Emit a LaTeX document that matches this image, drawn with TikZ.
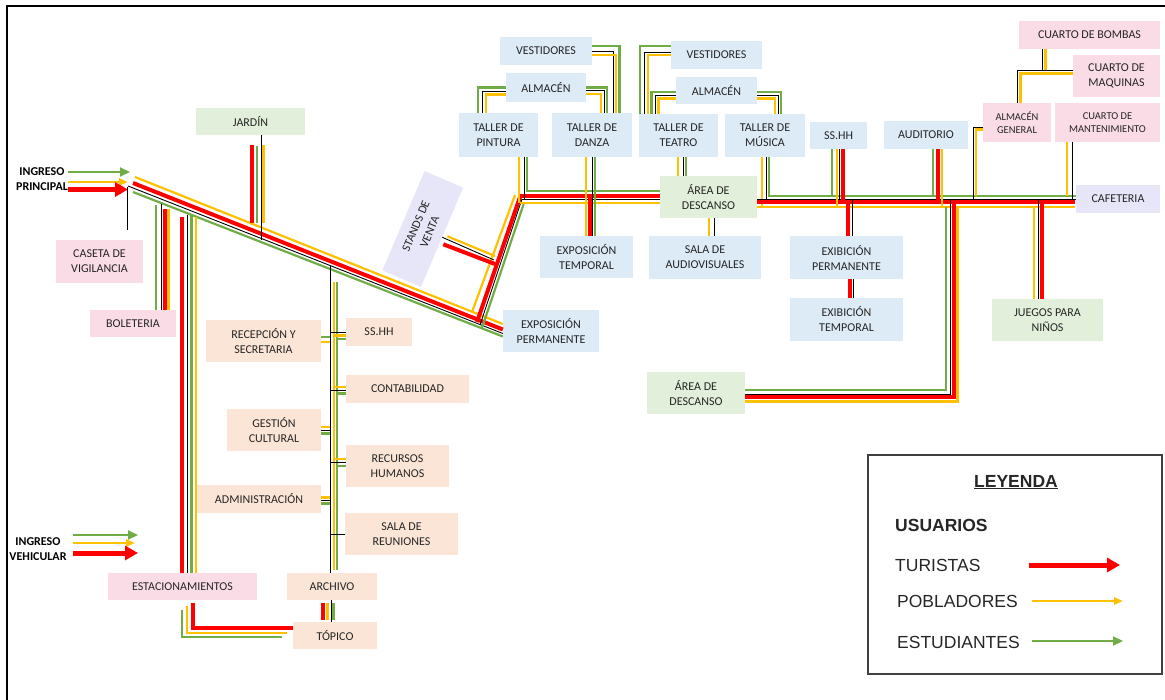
\documentclass[tikz,border=0pt]{standalone}
\usepackage{fontspec}
\setmainfont{Carlito}
\newfontfamily\legfont{Liberation Sans}
\usetikzlibrary{arrows.meta,calc}
\definecolor{rojo}{HTML}{FF0000}
\definecolor{amarillo}{HTML}{FFC000}
\definecolor{verde}{HTML}{70AD47}
\definecolor{cverde}{HTML}{E2EFDA}
\definecolor{crosa}{HTML}{F9DCE5}
\definecolor{cazul}{HTML}{DDEBF7}
\definecolor{cdurazno}{HTML}{FBE5D6}
\definecolor{clila}{HTML}{E6E6F8}
\definecolor{texto}{HTML}{262626}
\tikzset{
  area/.style={inner sep=0pt, align=center, text=texto, font=\fontsize{12}{15}\selectfont},
  chica/.style={font=\fontsize{10.5}{13}\selectfont},
  tur/.style={draw=rojo, line width=4pt},
  pob/.style={draw=amarillo, line width=2.2pt},
  est/.style={draw=verde, line width=2.2pt},
  neg/.style={draw=black, line width=0.9pt},
  ingreso/.style={inner sep=0pt, align=center, font=\fontsize{12}{15}\selectfont\bfseries},
  leyt/.style={inner sep=0pt, anchor=west, font=\legfont\fontsize{17.5}{20}\selectfont, text=texto},
  puntaR/.style={-{Triangle[length=13pt,width=14pt]}},
  puntaY/.style={-{Triangle[length=9pt,width=7pt]}},
  puntaG/.style={-{Triangle[length=10pt,width=9pt]}}
}
\begin{document}
\begin{tikzpicture}[x=1pt,y=-1pt]
\useasboundingbox (0,0) rectangle (1165,700);
\draw[line width=1.6pt] (7,700) -- (7,6) -- (1165,6);

% ---------- areas ----------
\node[area, fill=cverde, minimum width=109, minimum height=27] (jardin) at (250.5,121.5) {JARDÍN};
\node[area, fill=crosa, minimum width=87, minimum height=43] (caseta) at (99.5,261.5) {CASETA DE\\VIGILANCIA};
\node[area, fill=crosa, minimum width=86, minimum height=27] (boleteria) at (133,323.5) {BOLETERIA};
\node[area, fill=cdurazno, minimum width=115, minimum height=42] (recepcion) at (263.5,341) {RECEPCIÓN Y\\SECRETARIA};
\node[area, fill=cdurazno, minimum width=66, minimum height=28] (sshh1) at (379,332) {SS.HH};
\node[area, fill=cdurazno, minimum width=123, minimum height=28] (contab) at (407.5,389) {CONTABILIDAD};
\node[area, fill=cdurazno, minimum width=94, minimum height=42] (gestion) at (274,430) {GESTIÓN\\CULTURAL};
\node[area, fill=cdurazno, minimum width=103, minimum height=42] (rrhh) at (397.5,466) {RECURSOS\\HUMANOS};
\node[area, fill=cdurazno, minimum width=124, minimum height=28] (admin) at (259,499) {ADMINISTRACIÓN};
\node[area, fill=cdurazno, minimum width=113, minimum height=42] (reuniones) at (401.5,534) {SALA DE\\REUNIONES};
\node[area, fill=cdurazno, minimum width=90, minimum height=27] (archivo) at (332,586.5) {ARCHIVO};
\node[area, fill=cdurazno, minimum width=84, minimum height=27] (topico) at (335,635.5) {TÓPICO};
\node[area, fill=crosa, minimum width=149, minimum height=27] (estac) at (182.5,586.5) {ESTACIONAMIENTOS};
\node[area, fill=clila, minimum width=108, minimum height=42, rotate=67] (stands) at (422.75,229) {STANDS DE\\VENTA};
\node[area, fill=cazul, minimum width=93, minimum height=42] (exptemp) at (586.5,257) {EXPOSICIÓN\\TEMPORAL};
\node[area, fill=cazul, minimum width=96, minimum height=42] (expperm) at (551,331) {EXPOSICIÓN\\PERMANENTE};
\node[area, fill=cazul, minimum width=92, minimum height=28] (vest1) at (546,51) {VESTIDORES};
\node[area, fill=cazul, minimum width=80, minimum height=29] (alm1) at (546,87.5) {ALMACÉN};
\node[area, fill=cazul, minimum width=79, minimum height=44] (pintura) at (498.5,135) {TALLER DE\\PINTURA};
\node[area, fill=cazul, minimum width=80, minimum height=44] (danza) at (592,135) {TALLER DE\\DANZA};
\node[area, fill=cazul, minimum width=91, minimum height=28] (vest2) at (716.5,55) {VESTIDORES};
\node[area, fill=cazul, minimum width=81, minimum height=27] (alm2) at (716.5,90.5) {ALMACÉN};
\node[area, fill=cazul, minimum width=79, minimum height=43] (teatro) at (678.5,135.5) {TALLER DE\\TEATRO};
\node[area, fill=cazul, minimum width=80, minimum height=43] (musica) at (765,135.5) {TALLER DE\\MÚSICA};
\node[area, fill=cverde, minimum width=97, minimum height=42] (descanso1) at (708.5,197) {ÁREA DE\\DESCANSO};
\node[area, fill=cazul, minimum width=112, minimum height=43] (audiov) at (705,257.5) {SALA DE\\AUDIOVISUALES};
\node[area, fill=cazul, minimum width=57, minimum height=27] (sshh2) at (838.5,135.5) {SS.HH};
\node[area, fill=cazul, minimum width=84, minimum height=28] (auditorio) at (926,135) {AUDITORIO};
\node[area, chica, fill=crosa, minimum width=68, minimum height=39] (almgen) at (1017,122.5) {ALMACÉN\\GENERAL};
\node[area, chica, fill=crosa, minimum width=105, minimum height=39] (mant) at (1107.5,122.5) {CUARTO DE\\MANTENIMIENTO};
\node[area, fill=crosa, minimum width=141, minimum height=28] (bombas) at (1089.5,35) {CUARTO DE BOMBAS};
\node[area, fill=crosa, minimum width=87, minimum height=42] (maquinas) at (1116.5,76) {CUARTO DE\\MAQUINAS};
\node[area, fill=clila, minimum width=84, minimum height=28] (cafeteria) at (1118,199) {CAFETERIA};
\node[area, fill=cazul, minimum width=113, minimum height=43] (expermB) at (846.5,257.5) {EXIBICIÓN\\PERMANENTE};
\node[area, fill=cazul, minimum width=113, minimum height=43] (extemp) at (846.5,319.5) {EXIBICIÓN\\TEMPORAL};
\node[area, fill=cverde, minimum width=111, minimum height=42] (juegos) at (1047.5,320) {JUEGOS PARA\\NIÑOS};
\node[area, fill=cverde, minimum width=98, minimum height=42] (descanso2) at (696,393) {ÁREA DE\\DESCANSO};

% ---------- entrances ----------
\node[ingreso] (ingprin) at (42,179.5) {INGRESO\\PRINCIPAL};
\draw[est, puntaG] (ingprin.east |- 0,172) -- (130,172);
\draw[pob, puntaY] (ingprin.east |- 0,182) -- (128,182);
\draw[tur, line width=5pt, puntaR] (ingprin.east |- 0,189.5) -- (128,189.5);

\node[ingreso] (ingveh) at (38,549) {INGRESO\\VEHICULAR};
\draw[est, puntaG] ($(ingveh.east |- 0,535)+(6,0)$) -- (138,535);
\draw[pob, puntaY] ($(ingveh.east |- 0,543)+(6,0)$) -- (135,543);
\draw[tur, line width=5pt, puntaR] ($(ingveh.east |- 0,553)+(6,0)$) -- (138,553);

% ---------- main diagonal walk ----------
\draw[pob] (135,177) -- (expperm.west |- 0,324);
\draw[tur] (133,183) -- (expperm.west |- 0,329.5);
\draw[neg] (128,186) -- (expperm.west |- 0,333.5);
\draw[est] (133,192) -- (expperm.west |- 0,336.5);
\draw[neg] (127,187) -- ($(caseta.north -| 127,0)+(0,-10)$);

% rise towards the workshops
\draw[pob] (472,312) -- (515,195);
\draw[tur] (477,322) -- (520,197);
\draw[neg] (480,325) -- (522,199);
\draw[est] (482,328) -- (524,203);

% stands
\draw[pob] ($(stands.south)+(5,-1)$) -- (495,256);
\draw[neg] (stands.south) -- (494,260);
\draw[tur] ($(stands.south)+(1,7)$) -- (495,264);

% jardin
\draw[tur] ($(jardin.south -| 252,0)+(0,10)$) -- (252,223);
\draw[est] ($(jardin.south -| 257,0)+(0,11)$) -- (257,223);
\draw[neg] (jardin.south -| 261,0) -- (261,240);
\draw[pob] ($(jardin.south -| 263.5,0)+(0,10)$) -- (263.5,223);

% boleteria
\draw[est] (156,205) -- (boleteria.north -| 156,0);
\draw[neg] (161,204) -- (boleteria.north -| 161,0);
\draw[tur] (164.5,209) -- (boleteria.north -| 164.5,0);
\draw[pob] (168.5,209) -- (boleteria.north -| 168.5,0);

% estacionamientos
\draw[tur] (182,217) -- (estac.north -| 182,0);
\draw[neg] (187,215) -- (estac.north -| 187,0);
\draw[est] (191.5,215) -- (estac.north -| 191.5,0);
\draw[pob] (196,217) -- (estac.north -| 196,0);
\draw[tur] ($(estac.south -| 193,0)+(0,3)$) -- (193,628) -- (topico.west |- 0,628);
\draw[pob] ($(estac.south -| 187,0)+(0,6)$) -- (187,633) -- ($(topico.west |- 0,633)+(-6,0)$);
\draw[est] ($(estac.south -| 182,0)+(0,10)$) -- (182,637) -- ($(topico.west |- 0,637)+(-11,0)$);

% administration spine
\draw[neg] (330,266) -- (archivo.north -| 330,0);
\draw[pob] (334,282) -- (334,570);
\draw[est] (337,282) -- (337,570);
\draw[est] (recepcion.east |- 0,337) -- (330,337);
\draw[pob] (recepcion.east |- 0,342) -- (330,342);
\draw[neg] (330,332) -- (sshh1.west |- 0,332);
\draw[pob] (334,335.5) -- (sshh1.west |- 0,335.5);
\draw[est] (337,339) -- (sshh1.west |- 0,339);
\draw[pob] (334,387) -- (contab.west |- 0,387);
\draw[neg] (330,390) -- (contab.west |- 0,390);
\draw[est] (337,393.5) -- (contab.west |- 0,393.5);
\draw[pob] (gestion.east |- 0,427) -- (330,427);
\draw[neg] (gestion.east |- 0,430.5) -- (330,430.5);
\draw[est] (gestion.east |- 0,433.5) -- (330,433.5);
\draw[pob] (334,459) -- (rrhh.west |- 0,459);
\draw[neg] (330,462.5) -- (rrhh.west |- 0,462.5);
\draw[est] (337,466) -- (rrhh.west |- 0,466);
\draw[pob] (admin.east |- 0,497.5) -- (330,497.5);
\draw[neg] (admin.east |- 0,500.5) -- (330,500.5);
\draw[est] (admin.east |- 0,503.5) -- (330,503.5);
\draw[neg] (330,534) -- (reuniones.west |- 0,534);
\draw[tur] ($(archivo.south -| 323,0)+(0,3)$) -- ($(topico.north -| 323,0)+(0,-2)$);
\draw[pob] ($(archivo.south -| 327.5,0)+(0,3)$) -- ($(topico.north -| 327.5,0)+(0,-2)$);
\draw[neg] (archivo.south -| 331,0) -- (topico.north -| 331,0);
\draw[est] ($(archivo.south -| 333.5,0)+(0,3)$) -- ($(topico.north -| 333.5,0)+(0,-2)$);

% ---------- upper walk ----------
\draw[est] (pintura.south -| 527,0) -- (527,191) -- (descanso1.west |- 0,191);
\draw[tur] (518,196) -- (descanso1.west |- 0,196);
\draw[neg] (522,199) -- (descanso1.west |- 0,199);
\draw[pob] (520,203) -- (descanso1.west |- 0,203);
\draw[pob] (pintura.south -| 519,0) -- (519,203);
\draw[neg] (pintura.south -| 524,0) -- (524,199);

\draw[pob] (danza.south -| 586,0) -- (exptemp.north -| 586,0);
\draw[tur] (589.5,196) -- (exptemp.north -| 589.5,0);
\draw[neg] (danza.south -| 592,0) -- (exptemp.north -| 592,0);
\draw[est] (danza.south -| 595,0) -- (exptemp.north -| 595,0);

\draw[pob] (teatro.south -| 678,0) -- (descanso1.north -| 678,0);
\draw[neg] (teatro.south -| 683,0) -- (descanso1.north -| 683,0);
\draw[est] (teatro.south -| 686,0) -- (descanso1.north -| 686,0);

\draw[pob] (musica.south -| 762,0) -- (762,207);
\draw[neg] (musica.south -| 766,0) -- (766,199);
\draw[est] (musica.south -| 769,0) -- (769,196) -- (cafeteria.west |- 0,196);
\draw[neg] (descanso1.east |- 0,199.5) -- (cafeteria.west |- 0,199.5);
\draw[tur] (descanso1.east |- 0,202.5) -- (1075,202.5);
\draw[pob] (descanso1.east |- 0,207) -- (1075,207);

\draw[pob] (descanso1.south -| 709,0) -- (audiov.north -| 709,0);
\draw[neg] (descanso1.south -| 714,0) -- (audiov.north -| 714,0);

% storerooms and dressing rooms
\draw[est] (alm1.west |- 0,87.5) -- (478,87.5) -- (pintura.north -| 478,0);
\draw[neg] (alm1.west |- 0,91) -- (482,91) -- (pintura.north -| 482,0);
\draw[pob] (alm1.west |- 0,94.5) -- (486,94.5) -- (pintura.north -| 486,0);
\draw[est] (alm1.east |- 0,87.5) -- (607,87.5) -- (danza.north -| 607,0);
\draw[neg] (alm1.east |- 0,90.5) -- (604,90.5) -- (danza.north -| 604,0);
\draw[pob] (alm1.east |- 0,94) -- (601,94) -- (danza.north -| 601,0);
\draw[est] (vest1.east |- 0,46) -- (619.5,46) -- (danza.north -| 619.5,0);
\draw[neg] (vest1.east |- 0,51.5) -- (613,51.5) -- (danza.north -| 613,0);
\draw[pob] (vest1.east |- 0,55) -- (616,55) -- (danza.north -| 616,0);
\draw[est] (vest2.west |- 0,46) -- (640,46) -- (teatro.north -| 640,0);
\draw[neg] (vest2.west |- 0,52) -- (644.5,52) -- (teatro.north -| 644.5,0);
\draw[pob] (vest2.west |- 0,55) -- (648,55) -- (teatro.north -| 648,0);
\draw[est] (alm2.west |- 0,92) -- (651.5,92) -- (teatro.north -| 651.5,0);
\draw[neg] (alm2.west |- 0,95) -- (655,95) -- (teatro.north -| 655,0);
\draw[pob] (alm2.west |- 0,98.5) -- (658.5,98.5) -- (teatro.north -| 658.5,0);
\draw[est] (alm2.east |- 0,92) -- (781,92) -- (musica.north -| 781,0);
\draw[neg] (alm2.east |- 0,95) -- (778,95) -- (musica.north -| 778,0);
\draw[pob] (alm2.east |- 0,98.5) -- (775,98.5) -- (musica.north -| 775,0);

% right wing
\draw[est] (sshh2.south -| 832,0) -- (832,196);
\draw[pob] (sshh2.south -| 837,0) -- (837,207);
\draw[neg] (sshh2.south -| 839.5,0) -- (839.5,199.5);
\draw[tur] (sshh2.south -| 843,0) -- (843,202.5);
\draw[est] (auditorio.south -| 933,0) -- (933,196);
\draw[tur] (auditorio.south -| 938,0) -- (938,202.5);
\draw[pob] (auditorio.south -| 942,0) -- (942,207);
\draw[neg] (almgen.west |- 0,127) -- (973,127) -- (973,199.5);
\draw[pob] (almgen.west |- 0,129.5) -- (976,129.5) -- (976,196);
\draw[pob] (mant.south -| 1067,0) -- (1067,196);
\draw[neg] (mant.south -| 1072,0) -- (1072,199.5);
\draw[neg] (almgen.north -| 1017,0) -- (1017,70) -- (maquinas.west |- 0,70);
\draw[pob] (almgen.north -| 1020.5,0) -- (1020.5,73.5) -- (maquinas.west |- 0,73.5);
\draw[neg] (bombas.south -| 1042,0) -- (1042,70);
\draw[pob] (bombas.south -| 1045.5,0) -- (1045.5,70);

\draw[tur] (848,202.5) -- (expermB.north -| 848,0);
\draw[neg] (852,199.5) -- (expermB.north -| 852,0);
\draw[tur] (expermB.south -| 850,0) -- (extemp.north -| 850,0);
\draw[neg] (expermB.south -| 853.5,0) -- (extemp.north -| 853.5,0);

\draw[est] (946,207) -- (946,390) -- (descanso2.east |- 0,390);
\draw[neg] (950,199.5) -- (950,394) -- (descanso2.east |- 0,394);
\draw[tur] (954,202.5) -- (954,397.5) -- (descanso2.east |- 0,397.5);
\draw[pob] (957.5,207) -- (957.5,401.5) -- (descanso2.east |- 0,401.5);

\draw[pob] (1034,207) -- (juegos.north -| 1034,0);
\draw[neg] (1038,199.5) -- (juegos.north -| 1038,0);
\draw[tur] (1041.5,202.5) -- (juegos.north -| 1041.5,0);

% ---------- legend ----------
\node[draw=black!75, line width=1.3pt, minimum width=294, minimum height=219, inner sep=0] (leyenda) at (1015,564.5) {};
\node[inner sep=0, font=\legfont\fontsize{17.5}{20}\selectfont\bfseries, text=texto] (leytit) at (1016,482) {\underline{LEYENDA}};
\node[leyt, font=\legfont\fontsize{17.5}{20}\selectfont\bfseries] (usuarios) at (895,525) {USUARIOS};
\node[leyt] (turistas) at (895,565) {TURISTAS};
\node[leyt] (pobladores) at (897,601) {POBLADORES};
\node[leyt] (estudiantes) at (897,642) {ESTUDIANTES};
\draw[tur, line width=5pt, puntaR] (1029,565) -- (1120,565);
\draw[pob, puntaY] (1032,601) -- (1123,601);
\draw[est, puntaG] (1032,641) -- (1123,641);
\end{tikzpicture}
\end{document}
